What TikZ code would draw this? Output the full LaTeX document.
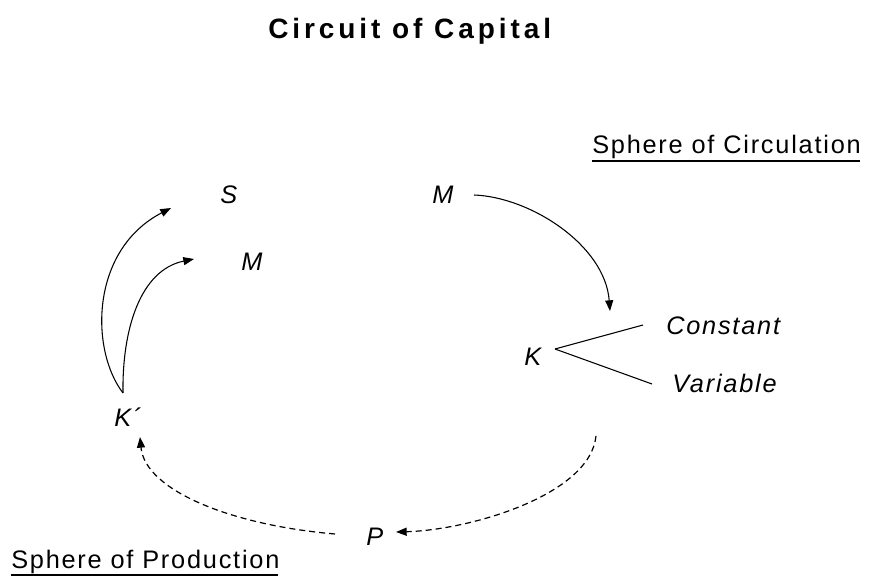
\documentclass[tikz,border=0pt]{standalone}
\usepackage{fontspec}
\setmainfont{Liberation Sans}
\newfontfamily\bodyfont[LetterSpace=7]{Liberation Sans}
\newfontfamily\titlefont[LetterSpace=14]{Liberation Sans}
\usetikzlibrary{arrows.meta}
\begin{document}
\begin{tikzpicture}[x=0.75pt,y=-0.75pt,
  lbl/.style={inner sep=0pt,anchor=base west,font=\bodyfont\fontsize{19}{23}\selectfont},
  var/.style={lbl,font=\bodyfont\itshape\fontsize{19}{23}\selectfont},
  ttl/.style={inner sep=0pt,anchor=base west,font=\titlefont\bfseries\fontsize{21}{25}\selectfont},
  solidarrow/.style={line width=0.8pt,-{Triangle[length=8pt,width=6pt]}},
  dasharrow/.style={line width=0.9pt,dash pattern=on 4.5pt off 3pt,-{Triangle[length=8pt,width=6pt]}},
  branch/.style={line width=0.8pt},
  uline/.style={line width=1.4pt}]
\useasboundingbox (0,0) rectangle (872,577);
% texts
\node[ttl] (title) at (268,39) {Circuit of Capital};
\node[lbl] (circ) at (592,154) {Sphere of Circulation};
\node[lbl] (prod) at (11,568) {Sphere of Production};
\node[var] (S) at (220,204) {S};
\node[var] (M) at (432,204) {M};
\node[var] (Mb) at (241,271) {M};
\node[var] (K) at (524,366) {K};
\node[var] (const) at (666,335) {Constant};
\node[var] (vari) at (672,393) {Variable};
\node[var] (Kp) at (114,427) {K´};
\node[var] (P) at (366,546) {P};
% underlines
\draw[uline] ([yshift=-5pt]circ.base west) -- ([yshift=-5pt,xshift=-1pt]circ.base east);
\draw[uline] ([yshift=-5pt]prod.base west) -- ([yshift=-5pt,xshift=-1pt]prod.base east);
% connector end points
\coordinate (mstart) at (474,195);
\coordinate (kin) at (610,311);
\coordinate (kv) at (555,349);
\coordinate (cend) at (643,325);
\coordinate (vend) at (652,384);
\coordinate (kout) at (596,436);
\coordinate (pin) at (396,532);
\coordinate (pout) at (335,534);
\coordinate (kpin) at (140,437);
\coordinate (kpout) at (123,393);
\coordinate (sin) at (171,208);
\coordinate (mbin) at (194,259);
% connectors
\draw[solidarrow] (mstart) .. controls (530,197) and (605,245) .. (kin);
\draw[branch] (kv) -- (cend);
\draw[branch] (kv) -- (vend);
\draw[dasharrow] (kout) .. controls (590,495) and (470,530) .. (pin);
\draw[dasharrow] (pout) .. controls (230,525) and (145,490) .. (kpin);
\draw[solidarrow] (kpout) .. controls (90,350) and (90,250) .. (sin);
\draw[solidarrow] (kpout) .. controls (122,330) and (140,270) .. (mbin);
\end{tikzpicture}
\end{document}
